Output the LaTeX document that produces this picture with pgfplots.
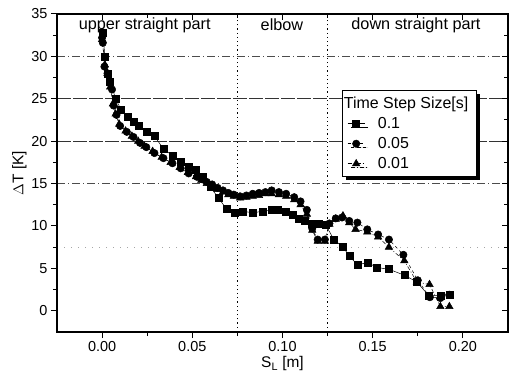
\documentclass[border=0pt]{standalone}
\usepackage{pgfplots}
\pgfplotsset{compat=1.18}
\usepackage{fontspec}
\setmainfont{Liberation Sans}
\usetikzlibrary{shadows}

\begin{document}
\begin{tikzpicture}
\begin{axis}[
  scale only axis, width=451bp, height=318bp,
  xmin=-0.025, xmax=0.225, ymin=-2.5, ymax=35,
  xtick={0,0.05,0.1,0.15,0.2}, ytick={0,5,...,35},
  minor x tick num=1, minor y tick num=1,
  xtick pos=bottom, ytick pos=left, tick align=outside,
  major tick length=6bp, minor tick length=4bp,
  tick style={black, line width=1bp},
  axis line style={line width=1.3bp},
  /pgf/number format/assume math mode=true,
  xticklabel style={/pgf/number format/fixed, /pgf/number format/fixed zerofill, /pgf/number format/precision=2},
  ticklabel style={font=\fontsize{14.5}{16}\selectfont},
  xlabel={S\textsubscript{L} [m]}, ylabel={$\Delta$T [K]},
  label style={font=\fontsize{15.5}{17}\selectfont},
  xlabel style={yshift=2bp},
  ylabel style={yshift=-2bp},
  legend cell align=left,
  legend style={at={(axis cs:0.133,26.0)}, anchor=north west, draw=black, line width=0.8bp, fill=white,
    font=\fontsize{16}{16}\selectfont, row sep=5bp, column sep=10bp, inner xsep=5bp, inner ysep=5bp,
    nodes={inner xsep=3bp, inner ysep=1.2bp},
    drop shadow={shadow xshift=3.5bp, shadow yshift=-3.5bp, fill=black, opacity=1}},
]
% grid lines and region separators
\draw[black!70, line width=0.6bp, dash pattern=on 8bp off 3bp on 1bp off 3bp] (axis cs:-0.025,15) -- (axis cs:0.225,15);
\draw[black!80, line width=0.6bp, dash pattern=on 14bp off 2bp] (axis cs:-0.025,20) -- (axis cs:0.225,20);
\draw[black!80, line width=0.6bp, dash pattern=on 14bp off 2bp] (axis cs:-0.025,25) -- (axis cs:0.225,25);
\draw[black!70, line width=0.6bp, dash pattern=on 8bp off 3bp on 1bp off 3bp] (axis cs:-0.025,30) -- (axis cs:0.225,30);
\draw[black!35, line width=0.5bp, dash pattern=on 1bp off 6bp] (axis cs:-0.025,7.5) -- (axis cs:0.225,7.5);
\draw[black, line width=1.2bp, dash pattern=on 1.2bp off 3bp] (axis cs:0.075,-2.5) -- (axis cs:0.075,35);
\draw[black, line width=1.2bp, dash pattern=on 1.2bp off 3bp] (axis cs:0.125,-2.5) -- (axis cs:0.125,35);
\node[font=\fontsize{16.3}{17}\selectfont] at (axis cs:0.0236,33.7) {upper straight part};
\node[font=\fontsize{16.3}{17}\selectfont] at (axis cs:0.0997,33.7) {elbow};
\node[font=\fontsize{16.3}{17}\selectfont] at (axis cs:0.174,33.7) {down straight part};

\addlegendimage{empty legend}
\addlegendentry{\hspace*{-34bp}Time Step Size[s]}

\addplot[black, line width=0.5bp, mark=square*, mark size=3.5bp, mark options={solid}] coordinates {
(0.0005,32.8) (0.0015,30.0) (0.003,28.0) (0.0045,27.0) (0.0075,25.0) (0.0105,23.7)
(0.014,22.9) (0.0175,22.3) (0.0205,21.8) (0.0245,21.1) (0.029,20.6) (0.034,19.1)
(0.039,18.3) (0.0435,17.6) (0.048,17.0) (0.052,16.6) (0.056,15.8) (0.060,14.6)
(0.0645,13.3) (0.069,12.0) (0.0735,11.6) (0.078,11.7) (0.0835,11.6) (0.089,11.7)
(0.094,11.9) (0.0975,11.9) (0.102,11.7) (0.1055,11.3) (0.109,10.8) (0.1125,10.6)
(0.116,10.3) (0.120,10.3) (0.124,10.1) (0.1285,8.4) (0.1335,7.5) (0.137,6.5)
(0.1415,5.4) (0.147,5.7) (0.1525,5.1) (0.159,4.9) (0.1675,4.2) (0.1745,3.4)
(0.181,1.8) (0.1875,1.8) (0.1925,1.9)
};
\addlegendentry{0.1}

\addplot[black, line width=0.5bp, dashed, mark=*, mark size=3.7bp, mark options={solid}] coordinates {
(0.000,32.2) (0.0004,31.6) (0.0013,28.8) (0.003,28.0) (0.0055,26.1) (0.0064,24.2)
(0.008,23.1) (0.010,21.8) (0.0137,21.1) (0.0174,20.5) (0.021,19.8) (0.0245,19.3)
(0.029,18.6) (0.034,18.0) (0.039,17.4) (0.0436,16.8) (0.048,16.2) (0.0526,15.8)
(0.0555,15.5) (0.058,15.2) (0.061,14.9) (0.064,14.5) (0.067,14.2) (0.070,13.9)
(0.073,13.7) (0.0765,13.5) (0.080,13.6) (0.0835,13.8) (0.087,13.9) (0.0905,14.0)
(0.094,14.2) (0.098,14.0) (0.102,13.8) (0.1065,13.4) (0.110,12.9) (0.1135,11.9)
(0.1165,9.7) (0.1195,8.4) (0.1235,8.4) (0.126,10.3) (0.1295,10.9) (0.133,11.0)
(0.137,10.6) (0.1415,10.4) (0.147,9.6) (0.153,9.0) (0.159,8.4) (0.1670,6.6)
(0.1750,3.6) (0.1817,1.6) (0.1875,1.5) (0.1925,1.9)
};
\addlegendentry{0.05}

\addplot[black, line width=0.5bp, dash pattern=on 4bp off 2bp on 1bp off 2bp, mark=triangle*, mark size=4.3bp, mark options={solid}] coordinates {
(0.000,32.0) (0.0015,29.0) (0.003,28.0) (0.0045,26.4) (0.006,24.4) (0.0075,23.2)
(0.0095,22.0) (0.013,21.2) (0.0165,20.6) (0.020,20.0) (0.0235,19.4) (0.028,18.8)
(0.033,18.1) (0.038,17.5) (0.043,16.9) (0.0475,16.3) (0.052,15.8) (0.055,15.4)
(0.058,15.0) (0.061,14.6) (0.064,14.3) (0.067,14.0) (0.070,13.7) (0.073,13.5)
(0.0765,13.3) (0.080,13.4) (0.0835,13.5) (0.087,13.6) (0.0905,13.8) (0.094,13.8)
(0.098,13.7) (0.102,13.5) (0.1065,13.1) (0.110,12.5) (0.1135,11.4) (0.1165,9.5)
(0.1195,8.2) (0.1235,8.2) (0.126,10.2) (0.1295,10.8) (0.1335,11.2) (0.137,10.4)
(0.1405,9.6) (0.147,9.3) (0.153,8.7) (0.159,7.5) (0.1675,5.9) (0.1745,3.4)
(0.1815,3.1) (0.1875,0.5) (0.1925,0.5)
};
\addlegendentry{0.01}
\end{axis}
\begin{axis}[
  scale only axis, width=451bp, height=318bp,
  xmin=-0.025, xmax=0.225, ymin=-2.5, ymax=35,
  xtick={0,0.05,0.1,0.15,0.2}, ytick={0,5,...,35},
  minor x tick num=1, minor y tick num=1,
  xtick pos=top, ytick pos=right, tick align=inside,
  xticklabels={}, yticklabels={},
  major tick length=6bp, minor tick length=4bp,
  tick style={black, line width=1bp},
  axis line style={line width=1.3bp},
]
\end{axis}
\pgfresetboundingbox
\path[use as bounding box] ([xshift=-57bp,yshift=-53bp]current axis.south west) rectangle ([xshift=1bp,yshift=14bp]current axis.north east);
\end{tikzpicture}
\end{document}
